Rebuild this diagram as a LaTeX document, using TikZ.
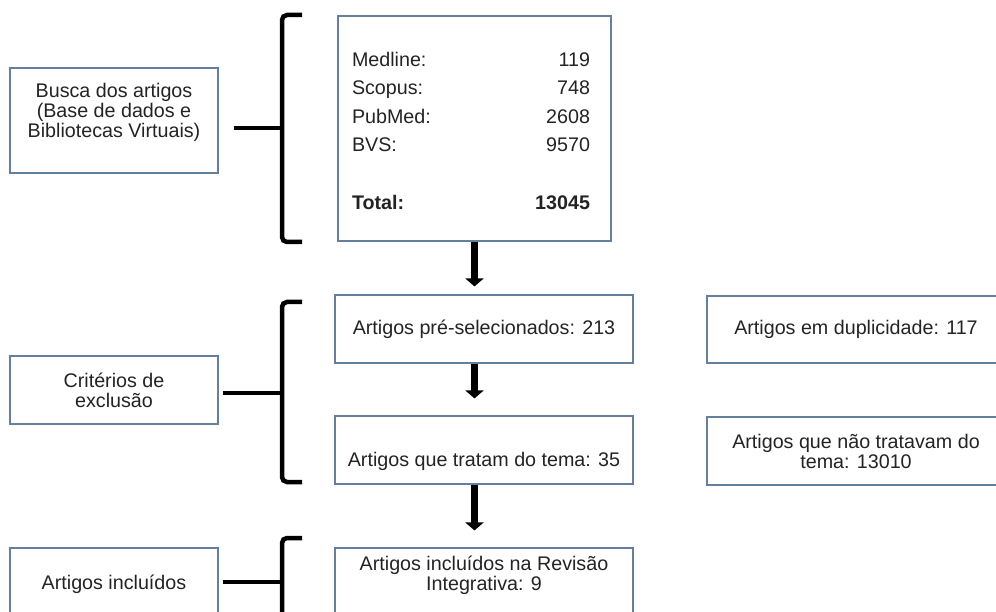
\documentclass[tikz,border=0pt]{standalone}
\usepackage{fontspec}
\setmainfont{Liberation Sans}
\usetikzlibrary{arrows.meta,calc}

\definecolor{boxline}{RGB}{100,128,158}
\definecolor{inkgray}{RGB}{35,35,35}

\def \buscaCenterX{114}
\def \buscaCenterY{120.5}
\def \buscaSizeX{208pt}
\def \buscaSizeY{105pt}
\def \dataCenterX{474.5}
\def \dataCenterY{128.5}
\def \dataSizeX{273pt}
\def \dataSizeY{225pt}
\def \critCenterX{114}
\def \critCenterY{390}
\def \critSizeX{208pt}
\def \critSizeY{68pt}
\def \preselCenterX{484}
\def \preselCenterY{329}
\def \temaCenterX{484}
\def \temaCenterY{450}
\def \inclCenterX{484}
\def \inclCenterY{582}
\def \midSizeX{298pt}
\def \midSizeY{68pt}
\def \dupCenterX{856}
\def \dupCenterY{329.5}
\def \naoCenterX{856}
\def \naoCenterY{451}
\def \inclLeftCenterX{114}
\def \inclLeftCenterY{584}
\def \braceX{282}

\begin{document}
\begin{tikzpicture}[x=1pt, y=-1pt,
  every node/.style={font=\fontsize{19.7}{20}\selectfont, text=inkgray},
  block/.style={draw=boxline, line width=1.1pt, inner sep=0pt, align=center},
  flux/.style={line width=6.5pt, -{Triangle[width=18pt,length=8pt]}},
  brace/.style={line width=4.5pt, rounded corners=5pt}]
\useasboundingbox (0,0) rectangle (996,612);
\clip (0,0) rectangle (996,612);

% ---- Left blocks
% ---- Busca
\node[block, minimum width=\buscaSizeX, minimum height=\buscaSizeY, text depth=21pt] (busca) at (\buscaCenterX, \buscaCenterY) {Busca dos artigos\\(Base de dados e\\Bibliotecas Virtuais)};
% ---- Criterios
\node[block, minimum width=\critSizeX, minimum height=\critSizeY] (crit) at (\critCenterX, \critCenterY) {Critérios de\\exclusão};
% ---- Incluidos
\node[block, minimum width=\critSizeX, minimum height=72pt] (inclleft) at (\inclLeftCenterX, \inclLeftCenterY) {Artigos incluídos};

% ---- Middle blocks
% ---- Data
\node[block, minimum width=\dataSizeX, minimum height=\dataSizeY] (data) at (\dataCenterX, \dataCenterY) {\begin{tabular*}{238pt}{@{}l@{\extracolsep{\fill}}r@{}}
\noalign{\vskip 10pt}
Medline: & 119\\[8.5pt]
Scopus: & 748\\[8.5pt]
PubMed: & 2608\\[8.5pt]
BVS: & 9570\\[8.5pt]
 & \\[8.5pt]
\textbf{Total:} & \textbf{13045}
\end{tabular*}\hspace*{7pt}};
% ---- Pre-selecionados
\node[block, minimum width=\midSizeX, minimum height=\midSizeY] (presel) at (\preselCenterX, \preselCenterY) {Artigos pré-selecionados: 213};
% ---- Tema
\node[block, minimum width=\midSizeX, minimum height=\midSizeY, text height=38pt] (tema) at (\temaCenterX, \temaCenterY) {Artigos que tratam do tema: 35};
% ---- Revisao
\node[block, minimum width=\midSizeX, minimum height=\midSizeY, text depth=18pt] (incl) at (\inclCenterX, \inclCenterY) {Artigos incluídos na Revisão\\Integrativa: 9};

% ---- Right blocks
\node[block, minimum width=\midSizeX, minimum height=67pt] (dup) at (\dupCenterX, \dupCenterY) {Artigos em duplicidade: 117};
\node[block, minimum width=\midSizeX, minimum height=\midSizeY] (nao) at (\naoCenterX, \naoCenterY) {Artigos que não tratavam do\\tema: 13010};

% ---- Brackets
\coordinate (braceA) at (\braceX, 128);
\coordinate (braceB) at (\braceX, 393);
\coordinate (braceC) at (\braceX, 582);
\draw[brace] (\braceX+20, 15) -- (\braceX, 15) -- (\braceX, 242) -- (\braceX+20, 242);
\draw[brace] ([xshift=15pt]busca.east |- braceA) -- (braceA);
\draw[brace] (\braceX+20, 302) -- (\braceX, 302) -- (\braceX, 482) -- (\braceX+20, 482);
\draw[brace] ([xshift=4pt]crit.east |- braceB) -- (braceB);
\draw[brace] (\braceX+20, 538) -- (\braceX, 538) -- (\braceX, 650);
\draw[brace] ([xshift=4pt]inclleft.east |- braceC) -- (braceC);

% Flux
\coordinate (flow) at (data.south);
\draw[flux, shorten >=8pt] (flow) -- (flow |- presel.north);
\draw[flux, shorten >=17pt] (presel.south -| flow) -- (tema.north -| flow);
\draw[flux, shorten >=17pt] (tema.south -| flow) -- (incl.north -| flow);
\end{tikzpicture}
\end{document}
